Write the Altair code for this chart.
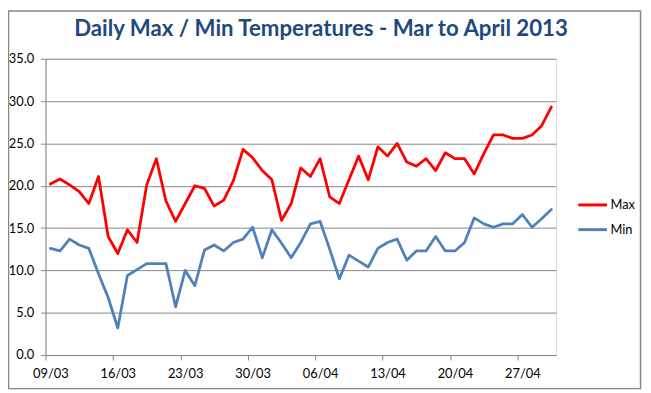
import altair as alt
import pandas as pd

title_text = "Daily Max / Min Temperatures - Mar to April 2013"
series_names = ["Max", "Min"]
series_colors = ["#FF0000", "#4F81BD"]
tick_labels = ["09/03", "16/03", "23/03", "30/03", "06/04", "13/04", "20/04", "27/04"]
dates = list(pd.date_range("2013-03-09", "2013-04-30").strftime("%d/%m"))

max_vals = [20.2, 20.8, 20.1, 19.3, 17.9, 21.1, 14.0, 12.0, 14.8, 13.3,
            20.1, 23.2, 18.2, 15.8, 17.9, 20.0, 19.7, 17.6, 18.3, 20.6,
            24.3, 23.3, 21.8, 20.7, 15.9, 17.9, 22.1, 21.1, 23.2, 18.7,
            17.9, 20.7, 23.5, 20.7, 24.6, 23.5, 25.0, 22.8, 22.3, 23.2,
            21.8, 23.9, 23.2, 23.2, 21.4, 23.8, 26.0, 26.0, 25.6, 25.6,
            26.0, 27.1, 29.3]
min_vals = [12.6, 12.3, 13.7, 13.0, 12.6, 9.6, 6.8, 3.2, 9.4, 10.1,
            10.8, 10.8, 10.8, 5.7, 10.0, 8.2, 12.4, 13.0, 12.3, 13.3,
            13.7, 15.1, 11.5, 14.8, 13.2, 11.5, 13.3, 15.5, 15.8, 12.5,
            9.0, 11.8, 11.1, 10.4, 12.6, 13.3, 13.7, 11.2, 12.3, 12.3,
            14.0, 12.3, 12.3, 13.3, 16.2, 15.5, 15.1, 15.5, 15.5, 16.6,
            15.1, 16.1, 17.2]

rows = []
for name, vals in zip(series_names, [max_vals, min_vals]):
    for i, (d, v) in enumerate(zip(dates, vals)):
        rows.append({"day": i, "date": d, "series": name, "temp": v})
df = pd.DataFrame(rows)

W, H = 517, 300
n = len(dates)
half_day = W / n / 2.0
label_arr = "[" + ",".join("'%s'" % t for t in tick_labels) + "]"

FONT = "Lato"
GRAY = "#868686"

lines = alt.Chart(df).mark_line(strokeWidth=2.8, strokeJoin="round", strokeCap="round").encode(
    x=alt.X("day:Q",
            scale=alt.Scale(domain=[-0.5, n - 0.5], nice=False, zero=False),
            axis=alt.Axis(values=[7 * k for k in range(len(tick_labels))],
                          labelExpr=label_arr + "[round(datum.value/7)]",
                          title=None, grid=False, domainColor=GRAY, tickColor=GRAY,
                          tickSize=5, tickOffset=-half_day, labelOffset=half_day,
                          labelPadding=8, labelFont=FONT, labelFontSize=13,
                          labelColor="#000000", domainWidth=1, tickWidth=1)),
    y=alt.Y("temp:Q",
            scale=alt.Scale(domain=[0, 35], nice=False),
            axis=alt.Axis(values=[0, 5, 10, 15, 20, 25, 30, 35], format=".1f",
                          title=None, grid=True, gridColor=GRAY, gridWidth=1,
                          domainColor=GRAY, tickColor=GRAY, tickSize=5,
                          labelPadding=7, labelFont=FONT, labelFontSize=13,
                          labelColor="#000000")),
    color=alt.Color("series:N",
                    scale=alt.Scale(domain=series_names, range=series_colors),
                    legend=alt.Legend(title=None, orient="none", legendX=538, legendY=132,
                                      symbolType="stroke", symbolSize=841,
                                      symbolStrokeWidth=3, labelFont=FONT,
                                      labelFontSize=13, labelColor="#000000",
                                      labelOffset=2, rowPadding=2)),
    order=alt.Order("series:N", sort="descending"),
    detail="series:N",
)

border = alt.Chart(alt.Data(values=[{"a": 1}])).mark_rect(
    fill=None, stroke=GRAY, strokeWidth=1.5
).encode(
    x=alt.value(-37.5), x2=alt.value(602.5),
    y=alt.value(-48.5), y2=alt.value(334),
)

title = alt.Chart(alt.Data(values=[{"t": title_text}])).mark_text(
    font=FONT, fontSize=22.5, fontWeight="bold", color="#1F497D",
    align="center", baseline="alphabetic"
).encode(
    text="t:N", x=alt.value(279), y=alt.value(-23),
)

chart = alt.layer(border, lines, title).properties(
    width=W, height=H,
    autosize=alt.AutoSizeParams(type="none"),
    padding={"left": 38, "top": 49, "right": 88, "bottom": 36},
).configure_view(stroke=None).configure(background="white")

chart.save("out.html", embed_options={"renderer": "svg", "actions": False})
